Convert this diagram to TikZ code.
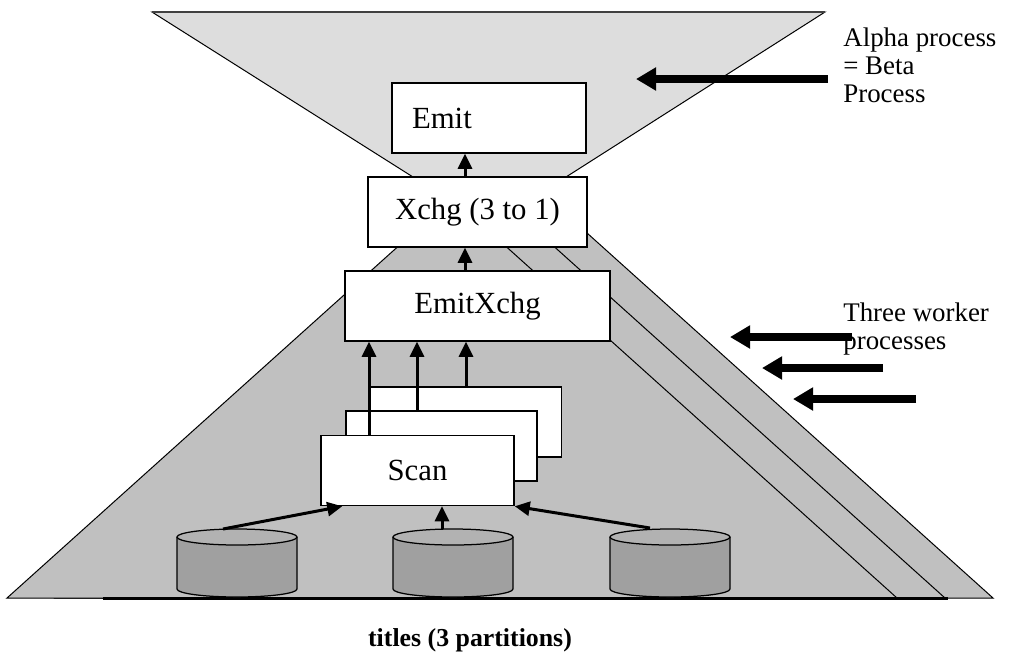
\documentclass[tikz,border=0pt]{standalone}
\usepackage{fontspec}
\setmainfont{Liberation Serif}
\usepackage{tikz}
\usetikzlibrary{calc,arrows.meta}
\definecolor{alphafill}{RGB}{221,221,221}
\definecolor{workerfill}{RGB}{192,192,192}
\definecolor{diskside}{RGB}{160,160,160}
\definecolor{disktop}{RGB}{178,178,178}
\def\boxfont{\fontsize{17.5pt}{20pt}\selectfont}
\def\sidefont{\fontsize{15.3pt}{15.9pt}\selectfont}
\def\titlefont{\fontsize{14.7pt}{16pt}\selectfont\bfseries}
\def\dbdisk(#1){\draw[fill=diskside,line width=0.25mm] ($(#1)+(-60,0)$) -- ++(0,52) arc[start angle=180,end angle=0,x radius=60,y radius=8] -- ++(0,-52);
	\draw[fill=disktop,line width=0.25mm] (#1) ellipse[x radius=60,y radius=8];}

\begin{document}
\begin{tikzpicture}[x=0.2mm,y=-0.2mm,
	opbox/.style={draw,fill=white,line width=0.3mm,inner sep=0pt,minimum height=14mm,font=\boxfont},
	flow/.style={line width=0.6mm,-{Triangle[length=3mm,width=2.8mm]}},
	bigflow/.style={line width=1.6mm,-{Triangle[length=4mm,width=4.4mm]}},
	sidetext/.style={font=\sidefont,align=left,anchor=west,inner sep=0pt}]
		%%%%% START %%%%%
		\useasboundingbox (0,0) rectangle (1009,667);
		
		\draw[fill=alphafill,line width=0.2mm] (152,12) -- (825,12) -- (566,177) -- (413,177) -- cycle;
		\draw[line width=0.5mm,black!75] (152,12) -- (825,12);
		
		\foreach \s in {96,48,0}
			\draw[fill=workerfill,line width=0.2mm] (7+\s,598) -- (897+\s,598) -- (471+\s,215) -- (433+\s,215) -- cycle;
		\draw[line width=0.6mm] (103,598) -- (948,598);
		
		\dbdisk(237,537)
		\dbdisk(453,537)
		\dbdisk(670,537)
		\coordinate (d1) at (223,529);
		\coordinate (d2) at (442,529);
		\coordinate (d3) at (650,528);
		
		\node[opbox,minimum width=38.2mm] (scanC) at (466,422) {};
		\node[opbox,minimum width=38.2mm] (scanB) at (441.5,446) {};
		\node[opbox,minimum width=38.6mm] (scanA) at (417.5,470.5) {Scan};
		\node[opbox,minimum width=53mm] (emitx) at (477.5,306) {EmitXchg};
		\node[opbox,minimum width=43.8mm] (xchg) at (477.5,212) {Xchg (3 to 1)};
		\node[opbox,minimum width=38.8mm,text width=30.8mm,align=left] (emit) at (489,118) {Emit};
		
		\draw[flow] (d1) -- ($(scanA.south west)+(22,0)$);
		\draw[flow] (d2) -- (scanA.south -| d2);
		\draw[flow] (d3) -- (scanA.south east);
		
		\coordinate (c1) at (369,0);
		\coordinate (c2) at (417,0);
		\coordinate (c3) at (466,0);
		\draw[flow] (c1 |- scanA.north) -- (c1 |- emitx.south);
		\draw[flow] (c2 |- scanB.north) -- (c2 |- emitx.south);
		\draw[flow] (c3 |- scanC.north) -- (c3 |- emitx.south);
		
		\coordinate (up) at (465,0);
		\draw[flow] (emitx.north -| up) -- (xchg.south -| up);
		\draw[flow] (xchg.north -| up) -- (emit.south -| up);
		
		\coordinate (alphatail) at (828,79);
		\coordinate (alphahead) at (636,79);
		\draw[bigflow] (alphatail) -- (alphahead);
		\node[sidetext] (alphalabel) at (843,65) {Alpha process\\= Beta\\Process};
		
		\coordinate (w1tail) at (852,337);
		\coordinate (w1head) at (730,337);
		\coordinate (w2tail) at (883,368);
		\coordinate (w2head) at (762,368);
		\coordinate (w3tail) at (916,399);
		\coordinate (w3head) at (793,399);
		\draw[bigflow] (w1tail) -- (w1head);
		\draw[bigflow] (w2tail) -- (w2head);
		\draw[bigflow] (w3tail) -- (w3head);
		\node[sidetext] (workerlabel) at (843,329) {Three worker\\processes};
		
		\node[font=\titlefont] (titles) at (470,640) {titles (3 partitions)};
		%%%%% END %%%%%
\end{tikzpicture}
\end{document}
